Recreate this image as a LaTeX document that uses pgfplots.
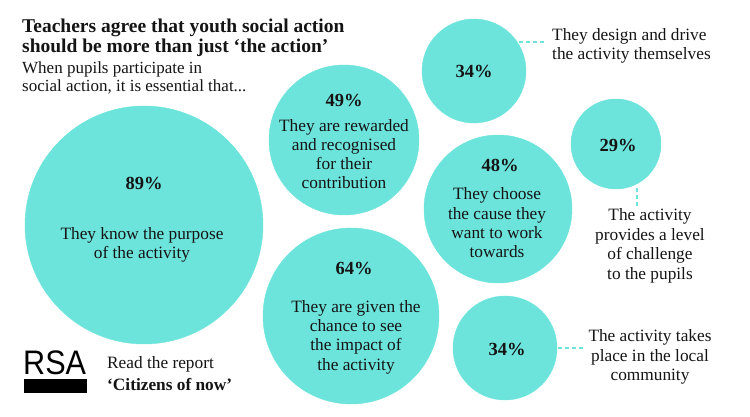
\documentclass[border=0pt]{standalone}
\usepackage{pgfplots}
\pgfplotsset{compat=1.18}
\usepackage{pgfplotstable}
\usepackage{fontspec}
\setmainfont{Liberation Serif}
\newfontfamily\logofont{Liberation Sans}
\definecolor{bubble}{RGB}{108,228,220}
\definecolor{ink}{RGB}{20,20,20}

% bubbles: centre (px from top left) and radius (px)
\pgfplotstableread{
x   y    r    pct
144 225  119  89
344 140  75   49
351 316  88   64
474 71   52   34
498 209  74   48
616 144  45   29
505 348  52   34
}\bubbles

\newcommand{\fs}[2]{\fontsize{#1}{#2}\selectfont}

\tikzset{
  pct/.style={text=ink, align=center, inner sep=0, font=\bfseries\fs{18.5}{20}},
  lbl/.style={text=ink, align=center, inner sep=0, font=\fs{17.3}{19.5}},
}

\begin{document}
\begin{tikzpicture}
\begin{axis}[
    set layers,
    scale only axis, width=750pt, height=417pt,
    xmin=0, xmax=750, ymin=0, ymax=417, y dir=reverse,
    hide axis, clip=false,
]
\addplot[on layer=axis background, scatter, only marks, mark=*, color=bubble,
    mark options={draw=bubble, fill=bubble},
    scatter/use mapped color={draw=bubble, fill=bubble},
    visualization depends on={\thisrow{r} \as \rad},
    scatter/@pre marker code/.append style={/tikz/mark size=\rad pt}]
    table[x=x, y=y] {\bubbles};

% dotted connectors
\addplot[bubble, line width=2.5pt, dash pattern=on 4pt off 3pt] coordinates {(519,42) (546,42)};
\addplot[bubble, line width=2.5pt, dash pattern=on 4pt off 3pt] coordinates {(637,188) (637,206)};
\addplot[bubble, line width=2.5pt, dash pattern=on 4pt off 3pt] coordinates {(558,348) (583,348)};

\begin{pgfonlayer}{axis foreground}
% titles (base = last line)
\node[anchor=base west, inner sep=0, align=left, text=ink, font=\bfseries\fs{19.5}{20}] at (axis cs:22,53)
  {Teachers agree that youth social action\\should be more than just `the action'};
\node[anchor=base west, inner sep=0, align=left, text=ink, font=\fs{17}{18.5}] at (axis cs:22,92)
  {When pupils participate in\\social action, it is essential that...};

% bubble texts
\node[pct] at (axis cs:144,183) {89\%};
\node[lbl] at (axis cs:142,245) {They know the purpose\\of the activity};
\node[pct] at (axis cs:344,100) {49\%};
\node[lbl, font=\fs{17.3}{19}] at (axis cs:344,154) {They are rewarded\\and recognised\\for their\\contribution};
\node[pct] at (axis cs:354,268) {64\%};
\node[lbl, font=\fs{17.3}{19.3}] at (axis cs:356,337) {They are given the\\chance to see\\the impact of\\the activity};
\node[pct] at (axis cs:474,71) {34\%};
\node[pct] at (axis cs:500,165) {48\%};
\node[lbl, font=\fs{17.3}{19.3}] at (axis cs:497,223) {They choose\\the cause they\\want to work\\towards};
\node[pct] at (axis cs:618,145) {29\%};
\node[pct] at (axis cs:507,349) {34\%};

% outside labels
\node[lbl, anchor=west, align=left] at (axis cs:552,46) {They design and drive\\the activity themselves};
\node[lbl] at (axis cs:650,246) {The activity\\provides a level\\of challenge\\to the pupils};
\node[lbl] at (axis cs:650,357) {The activity takes\\place in the local\\community};

% logo and report
\node[anchor=base west, inner sep=0, text=black, font=\logofont\fs{34}{34}, xscale=0.9] at (axis cs:23,375) {RSA};
\fill[black] (axis cs:24,379) rectangle (axis cs:87,393);
\node[anchor=base west, inner sep=0, text=ink, font=\fs{17.3}{21}] at (axis cs:107,369) {Read the report};
\node[anchor=base west, inner sep=0, text=ink, font=\bfseries\fs{17.3}{21}] at (axis cs:107,391) {`Citizens of now'};
\end{pgfonlayer}
\end{axis}
\pgfresetboundingbox
\path (current axis.south west) rectangle (current axis.north east);
\end{tikzpicture}
\end{document}
